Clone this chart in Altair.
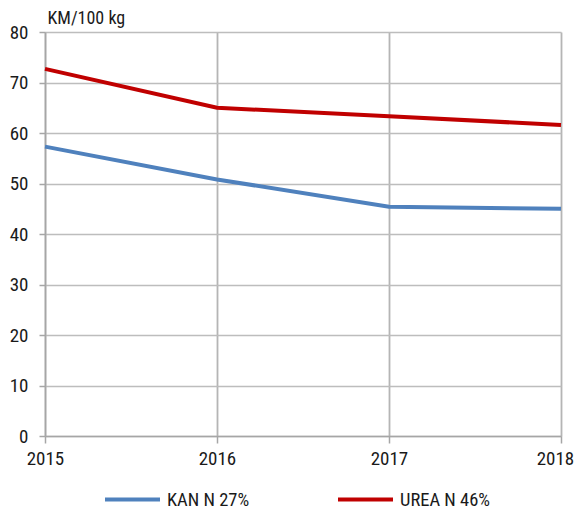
import altair as alt
import pandas as pd

years = [2015, 2016, 2017, 2018]
kan = [57.3, 50.8, 45.4, 45.0]
urea = [72.7, 65.0, 63.3, 61.6]
series = ["KAN N 27%", "UREA N 46%"]
colors = ["#4F81BD", "#C00000"]
x_ticks = [2015, 2015.5, 2016, 2016.5, 2017, 2017.5, 2018]
y_ticks = [0, 10, 20, 30, 40, 50, 60, 70, 80]

rows = []
for y, v in zip(years, kan):
    rows.append({"year": y, "value": v, "series": series[0]})
for y, v in zip(years, urea):
    rows.append({"year": y, "value": v, "series": series[1]})
df = pd.DataFrame(rows)

FONT = "Roboto Condensed, DejaVu Sans Condensed, sans-serif"
half = "datum.value % 1 !== 0"

chart = alt.Chart(df).mark_line(strokeWidth=4, strokeCap="butt").encode(
    x=alt.X(
        "year:Q",
        scale=alt.Scale(domain=[2015, 2018], nice=False, zero=False),
        axis=alt.Axis(
            values=x_ticks,
            title=None,
            format="d",
            labelExpr="datum.value % 1 === 0 ? datum.label : ''",
            labelFontSize=19,
            labelColor="#1a1a1a",
            labelPadding=6,
            labelFlush=False,
            labelOffset={"condition": {"test": "datum.value === 2018", "value": -6}, "value": 0},
            grid=True,
            gridColor={"condition": {"test": half, "value": "#CFCFCF"}, "value": "#B5B5B5"},
            gridWidth={"condition": {"test": half, "value": 1.2}, "value": 1.8},
            tickOpacity={"condition": {"test": half, "value": 0}, "value": 1},
            tickColor="#A6A6A6",
            tickSize=7,
            tickWidth=1.5,
            domainColor="#A6A6A6",
            domainWidth=1.5,
        ),
    ),
    y=alt.Y(
        "value:Q",
        scale=alt.Scale(domain=[0, 80], nice=False),
        axis=alt.Axis(
            values=y_ticks,
            title="KM/100 kg",
            titleAngle=0,
            titleAlign="left",
            titleBaseline="alphabetic",
            titleX=2,
            titleY=-9,
            titleFontSize=18,
            titleFontWeight="normal",
            titleColor="#1a1a1a",
            labelFontSize=19,
            labelColor="#1a1a1a",
            labelPadding=11,
            gridColor="#BDBDBD",
            gridWidth=1.5,
            tickColor="#A6A6A6",
            tickSize=6,
            tickWidth=1.5,
            domainColor="#A6A6A6",
            domainWidth=1.5,
        ),
    ),
    color=alt.Color(
        "series:N",
        scale=alt.Scale(domain=series, range=colors),
        legend=alt.Legend(
            title=None,
            orient="none",
            legendX=58,
            legendY=438,
            direction="horizontal",
            symbolType="stroke",
            symbolSize=3025,
            symbolStrokeWidth=4,
            labelFontSize=18.5,
            labelColor="#1a1a1a",
            columnPadding=80,
            labelOffset=5,
        ),
    ),
).properties(
    width=516,
    height=404,
    autosize=alt.AutoSizeParams(type="none"),
    padding={"left": 37, "top": 24, "right": 13, "bottom": 73},
).configure(
    font=FONT,
).configure_view(
    stroke=None,
)

chart.save("out.html", embed_options={"renderer": "svg", "actions": False})
